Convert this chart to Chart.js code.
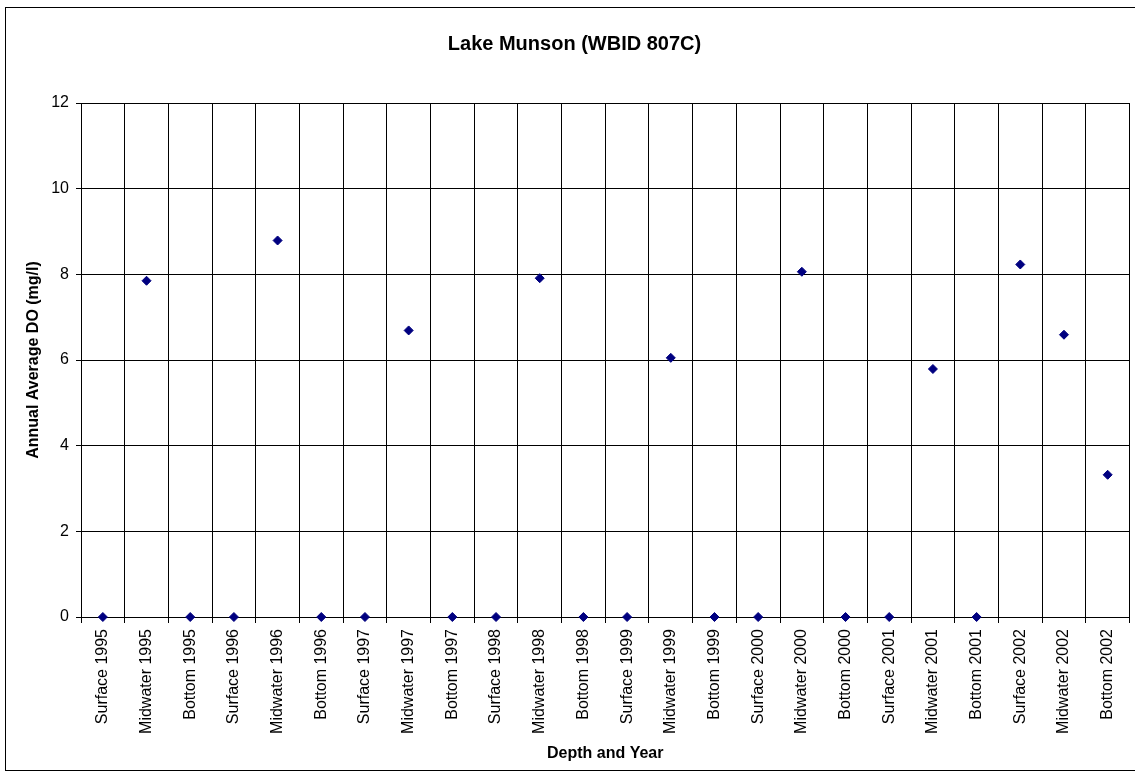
<!DOCTYPE html>
<html>
<head>
<meta charset="utf-8">
<title>Lake Munson (WBID 807C)</title>
<script src="https://cdn.jsdelivr.net/npm/chart.js@4.4.1/dist/chart.umd.min.js"></script>
<style>
  html, body { margin: 0; padding: 0; background: #fff; }
  #chart { display: block; }
</style>
</head>
<body>
<canvas id="chart" width="1135" height="778"></canvas>
<script>
// categories (depth + year)
const categories = [
  'Surface 1995', 'Midwater 1995', 'Bottom 1995',
  'Surface 1996', 'Midwater 1996', 'Bottom 1996',
  'Surface 1997', 'Midwater 1997', 'Bottom 1997',
  'Surface 1998', 'Midwater 1998', 'Bottom 1998',
  'Surface 1999', 'Midwater 1999', 'Bottom 1999',
  'Surface 2000', 'Midwater 2000', 'Bottom 2000',
  'Surface 2001', 'Midwater 2001', 'Bottom 2001',
  'Surface 2002', 'Midwater 2002', 'Bottom 2002'
];

// annual average DO (mg/l)
const doValues = [
  0, 7.85, 0,
  0, 8.79, 0,
  0, 6.69, 0,
  0, 7.91, 0,
  0, 6.05, 0,
  0, 8.06, 0,
  0, 5.79, 0,
  8.23, 6.59, 3.32
];

// y axis ticks
const yTicks = [0, 2, 4, 6, 8, 10, 12];

const FONT = 'Arial, "Liberation Sans", sans-serif';

// outer frame around the whole chart (it runs past the right edge in the original)
const framePlugin = {
  id: 'frame',
  beforeDraw(chart) {
    const ctx = chart.ctx;
    ctx.save();
    ctx.fillStyle = '#fff';
    ctx.fillRect(0, 0, chart.width, chart.height);
    ctx.strokeStyle = '#000';
    ctx.lineWidth = 1;
    ctx.strokeRect(5.5, 7.5, 1140, 763);
    ctx.restore();
  },
  // title is centred on the frame, not on the canvas
  afterLayout(chart) {
    if (chart.titleBlock) {
      chart.titleBlock.left += 9;
      chart.titleBlock.right += 9;
    }
  }
};

function initChart() {
  const ctx = document.getElementById('chart');
  new Chart(ctx, {
    type: 'line',
    data: {
      labels: categories,
      datasets: [{
        label: 'Annual Average DO',
        data: doValues,
        showLine: false,
        pointStyle: 'rectRot',
        pointRadius: 4.5,
        pointHoverRadius: 4.5,
        pointBackgroundColor: '#000080',
        pointBorderColor: '#000080',
        borderColor: '#000080',
        clip: false
      }]
    },
    options: {
      responsive: false,
      animation: false,
      layout: { padding: { left: 0, right: 4, top: 0, bottom: 0 } },
      plugins: {
        legend: { display: false },
        tooltip: { enabled: false },
        title: {
          display: true,
          text: 'Lake Munson (WBID 807C)',
          color: '#000',
          font: { family: FONT, size: 20, weight: 'bold' },
          padding: { top: 32, bottom: 47 }
        }
      },
      scales: {
        x: {
          offset: true,
          grid: { offset: true, color: '#000', lineWidth: 1, tickLength: 6, tickColor: '#000' },
          border: { color: '#000', width: 1 },
          ticks: {
            autoSkip: false,
            maxRotation: 90,
            minRotation: 90,
            padding: 6,
            color: '#000',
            font: { family: FONT, size: 16 }
          },
          title: {
            display: true,
            text: 'Depth and Year',
            color: '#000',
            font: { family: FONT, size: 16, weight: 'bold' },
            padding: { top: 15, bottom: 15 }
          },
          afterFit(scale) { scale.height = 161; }
        },
        y: {
          min: 0,
          max: 12,
          afterBuildTicks(scale) { scale.ticks = yTicks.map(v => ({ value: v })); },
          grid: { color: '#000', lineWidth: 1, tickLength: 5, tickColor: '#000' },
          border: { color: '#000', width: 1 },
          ticks: {
            padding: 7,
            color: '#000',
            font: { family: FONT, size: 16 }
          },
          title: {
            display: true,
            text: 'Annual Average DO (mg/l)',
            color: '#000',
            font: { family: FONT, size: 16, weight: 'bold' },
            padding: { top: 24, bottom: 24 }
          },
          afterFit(scale) { scale.width = 81; }
        }
      }
    },
    plugins: [framePlugin]
  });
}

document.addEventListener('DOMContentLoaded', initChart);
</script>
</body>
</html>
